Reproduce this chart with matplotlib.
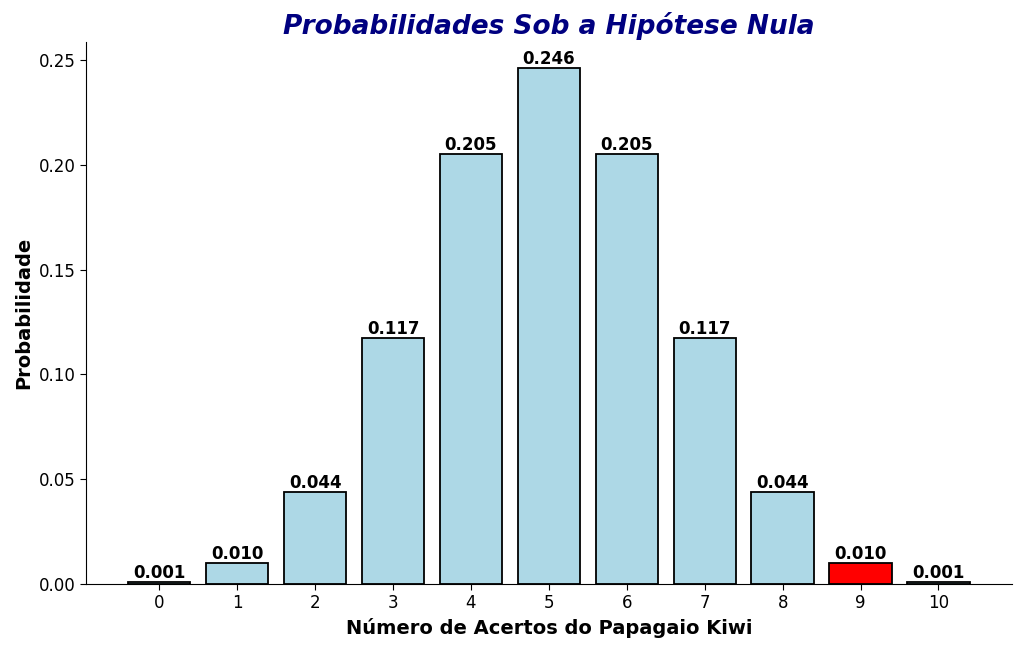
import matplotlib.pyplot as plt

acertos = [0, 1, 2, 3, 4, 5, 6, 7, 8, 9, 10]
probabilidades = [0.00098, 0.0098, 0.0439, 0.1172, 0.2051, 0.2461,
                  0.2051, 0.1172, 0.0439, 0.0098, 0.00098]
cores = ['lightblue'] * 9 + ['red', 'lightblue']

fig = plt.figure(figsize=(10.24, 6.51), dpi=100)
ax = fig.add_axes([0.084, 0.103, 0.904, 0.832])

barras = ax.bar(acertos, probabilidades, color=cores, edgecolor='black', linewidth=1.3, width=0.8)
for b, p in zip(barras, probabilidades):
    ax.text(b.get_x() + b.get_width() / 2, p, f'{p:.3f}', ha='center', va='bottom',
            fontsize=12, fontweight='bold')

ax.set_title('Probabilidades Sob a Hipótese Nula', fontsize=19, fontweight='bold',
             fontstyle='italic', color='navy')
ax.set_xlabel('Número de Acertos do Papagaio Kiwi', fontsize=14, fontweight='bold')
ax.set_ylabel('Probabilidade', fontsize=14, fontweight='bold')
ax.set_xticks(acertos)
ax.tick_params(labelsize=12, length=4)
ax.spines['top'].set_visible(False)
ax.spines['right'].set_visible(False)

plt.savefig('out.png', dpi=100)
